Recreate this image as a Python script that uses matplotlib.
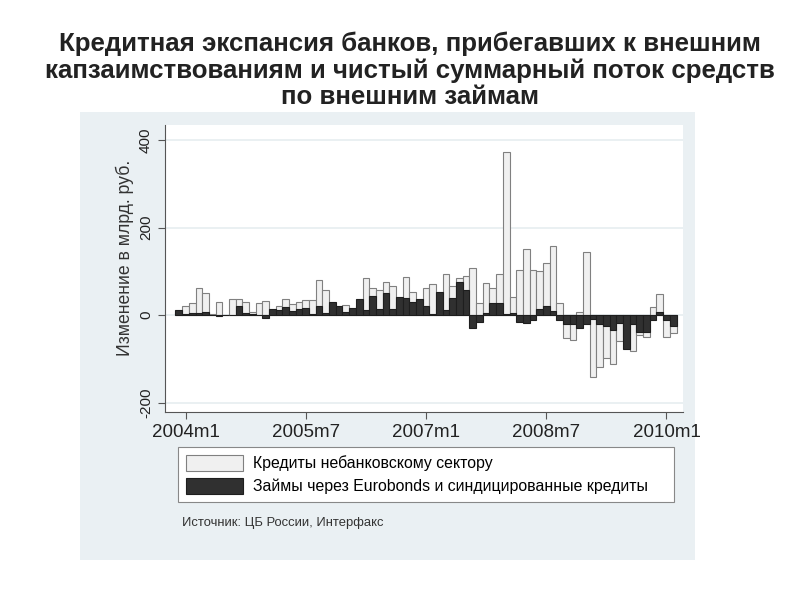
import numpy as np
import matplotlib
matplotlib.use("Agg")
import matplotlib.pyplot as plt
from matplotlib.patches import Rectangle, Patch

plt.rcParams['font.family'] = ['Liberation Sans', 'DejaVu Sans']

# Monthly data, 2003m12 .. 2010m2 (month index 0 = 2004m1)
months = np.arange(-1, 74)

# Кредиты небанковскому сектору (light bars)
credits = [5, 20, 27, 63, 51, 2, 30, 1, 37, 37,
           30, 8, 27, 33, 8, 20, 37, 25, 30, 35,
           35, 80, 57, 22, 15, 24, 10, 20, 84, 61,
           57, 75, 66, 30, 87, 53, 30, 61, 70, 15,
           95, 67, 84, 89, 108, 28, 74, 61, 93, 373,
           41, 103, 150, 103, 100, 120, 158, 27, -53, -57,
           6, 144, -142, -118, -97, -112, -59, -50, -81, -46,
           -51, 18, 48, -51, -42]

# Займы через Eurobonds и синдицированные кредиты (dark bars)
loans = [11, 3, 5, 5, 8, 1, -3, 0, 1, 20,
         5, 2, 0, -6, 13, 12, 18, 10, 15, 17,
         3, 20, 5, 30, 20, 8, 17, 37, 11, 44,
         13, 51, 13, 42, 40, 30, 37, 20, 2, 52,
         11, 38, 75, 57, -29, -16, 4, 28, 28, 2,
         4, -15, -19, -11, 13, 20, 9, -11, -20, -20,
         -30, -20, -10, -20, -25, -34, -18, -78, -20, -38,
         -38, -11, 8, -12, -25]

xtick_pos = [0, 18, 36, 54, 72]
xtick_labels = ['2004m1', '2005m7', '2007m1', '2008m7', '2010m1']
ytick_pos = [-200, 0, 200, 400]

fig = plt.figure(figsize=(8, 6), dpi=100, facecolor='white')

# grey graph region like Stata
fig.patches.append(Rectangle((0.1, 0.067), 0.769, 0.746, transform=fig.transFigure,
                             facecolor='#eaf0f3', edgecolor='none', zorder=-1))

ax = fig.add_axes([0.206, 0.313, 0.648, 0.479])
ax.set_facecolor('white')

ax.bar(months, credits, width=1.0, color='#f0f0f0', edgecolor='#808080',
       linewidth=0.8, zorder=2)
ax.bar(months, loans, width=1.0, color='#303030', edgecolor='#1e1e1e',
       linewidth=0.8, zorder=3)

ax.set_xlim(-3.1, 74.5)
ax.set_ylim(-222, 435)
ax.set_xticks(xtick_pos)
ax.set_xticklabels(xtick_labels, fontsize=13.5)
ax.set_yticks(ytick_pos)
ax.set_yticklabels([str(v) for v in ytick_pos], fontsize=11, rotation=90, va='center')
ax.set_ylabel('Изменение в млрд. руб.', fontsize=12.7, color='#333333')
ax.yaxis.set_label_coords(-0.06, 0.537)
ax.yaxis.grid(True, color='#e6edf0', linewidth=1.2, zorder=0)
ax.set_axisbelow(True)

for side in ['top', 'right']:
    ax.spines[side].set_visible(False)
for side in ['left', 'bottom']:
    ax.spines[side].set_color('#555555')
    ax.spines[side].set_linewidth(0.8)
ax.tick_params(axis='both', direction='out', length=5, width=0.8, colors='#555555',
               labelcolor='#222222')

# title
fig.text(0.512, 0.948, 'Кредитная экспансия банков, прибегавших к внешним\n'
         'капзаимствованиям и чистый суммарный поток средств\n'
         'по внешним займам', ha='center', va='top', fontsize=18.6,
         fontweight='bold', color='#222222', linespacing=1.12)

# legend
handles = [Patch(facecolor='#f0f0f0', edgecolor='#808080', linewidth=0.8),
           Patch(facecolor='#303030', edgecolor='#1e1e1e', linewidth=0.8)]
labels = ['Кредиты небанковскому сектору',
          'Займы через Eurobonds и синдицированные кредиты']
leg = fig.legend(handles, labels, loc='lower left',
                 bbox_to_anchor=(0.213, 0.15, 0.64, 0.09), mode='expand',
                 fontsize=11.4, handlelength=3.6, handleheight=1.2,
                 fancybox=False, framealpha=1, edgecolor='#888888',
                 borderpad=0.5, labelspacing=0.4, handletextpad=0.6)
leg.get_frame().set_linewidth(0.8)

# source
fig.text(0.227, 0.128, 'Источник: ЦБ России, Интерфакс', fontsize=9.4, color='#333333',
         va='center')

fig.savefig('out.png', dpi=100, facecolor='white')
